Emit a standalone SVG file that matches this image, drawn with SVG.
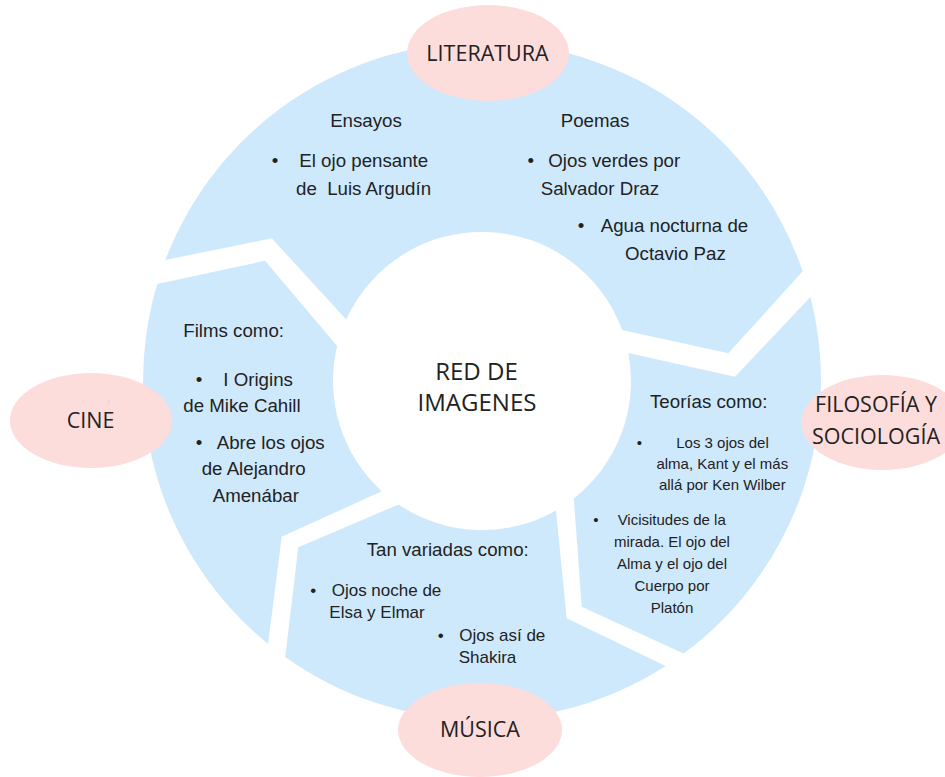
<svg xmlns="http://www.w3.org/2000/svg" width="945" height="777" viewBox="0 0 945 777">
<style>
.seg{fill:#cfe9fc}
.pill{fill:#fddcdc}
.lbl{font-family:"Open Sans","Noto Sans",sans-serif;font-size:21.5px;fill:#222;text-anchor:middle}
.ctr{font-family:"Open Sans","Noto Sans",sans-serif;font-size:24px;fill:#222;text-anchor:middle}
.t{font-family:"Liberation Sans",Arial,sans-serif;font-size:18.7px;fill:#222}
.m{text-anchor:middle}
.s{font-size:15px}
.mu{font-size:17px}
</style>
<rect width="945" height="777" fill="#ffffff"/>
<g id="connectors"></g>
<g id="seg-literatura">
<path class="seg" d="M165.3 260 A339 339 0 0 1 802.7 271.3 L728.3 353.3 L622 329.9 A149 149 0 0 0 346.2 319.6 L271.7 238.3 Z"/>
<text class="t m" x="366" y="127.3">Ensayos</text>
<text class="t m" x="275" y="167.3">•</text>
<text class="t" x="299.3" y="167.3">El ojo pensante</text>
<text class="t" x="296" y="195" xml:space="preserve">de  Luis Argudín</text>
<text class="t" x="560.7" y="127.3">Poemas</text>
<text class="t m" x="530.7" y="167.3">•</text>
<text class="t" x="548.3" y="167.3">Ojos verdes por</text>
<text class="t" x="540.7" y="195">Salvador Draz</text>
<text class="t m" x="581" y="231.7">•</text>
<text class="t" x="600.7" y="231.7">Agua nocturna de</text>
<text class="t" x="625" y="260">Octavio Paz</text>
</g>
<g id="seg-filosofia">
<path class="seg" d="M810.4 297 A339 339 0 0 1 683.5 653.6 L581.7 606.7 L573.8 498.4 A149 149 0 0 0 628.3 353 L735 376.7 Z"/>
<text class="t" x="650" y="408.3">Teorías como:</text>
<text class="t s m" x="639.3" y="448.3">•</text>
<text class="t s m" x="722.5" y="448.3">Los 3 ojos del</text>
<text class="t s m" x="722.3" y="469.3">alma, Kant y el más</text>
<text class="t s m" x="722.3" y="490">allá por Ken Wilber</text>
<text class="t s m" x="596" y="525">•</text>
<text class="t s m" x="671.7" y="525">Vicisitudes de la</text>
<text class="t s m" x="672" y="546.7">mirada. El ojo del</text>
<text class="t s m" x="672" y="569.3">Alma y el ojo del</text>
<text class="t s m" x="672" y="591">Cuerpo por</text>
<text class="t s m" x="672" y="612.7">Platón</text>
</g>
<g id="seg-musica">
<path class="seg" d="M665.6 665.9 A339 339 0 0 1 285.2 657 L298.3 547.3 L398.6 504.5 A149 149 0 0 0 556 510.4 L566.7 618.3 Z"/>
<text class="t" x="366.7" y="556">Tan variadas como:</text>
<text class="t mu m" x="313.3" y="595.7">•</text>
<text class="t mu" x="331.7" y="595.7">Ojos noche de</text>
<text class="t mu" x="329.3" y="618">Elsa y Elmar</text>
<text class="t mu m" x="440.7" y="640.7">•</text>
<text class="t mu" x="459.3" y="640.7">Ojos así de</text>
<text class="t mu" x="458.7" y="663">Shakira</text>
</g>
<g id="seg-cine">
<path class="seg" d="M268.1 644 A339 339 0 0 1 157.2 284 L265 260.7 L337.2 346 A149 149 0 0 0 381.8 491.3 L281.7 536.7 Z"/>
<text class="t" x="183.3" y="337">Films como:</text>
<text class="t m" x="199" y="385.5">•</text>
<text class="t" x="223.3" y="385.5">I Origins</text>
<text class="t" x="183.3" y="411.7">de Mike Cahill</text>
<text class="t m" x="199" y="448.5">•</text>
<text class="t" x="216.7" y="448.5">Abre los ojos</text>
<text class="t" x="201.7" y="475">de Alejandro</text>
<text class="t" x="212.7" y="502">Amenábar</text>
</g>
<g id="node-center">
<text class="ctr" x="476.5" y="379.5">RED DE</text>
<text class="ctr" x="477" y="411">IMAGENES</text>
</g>
<g id="node-literatura">
<ellipse class="pill" cx="488" cy="53" rx="81" ry="48"/>
<text class="lbl" x="487.5" y="60.7">LITERATURA</text>
</g>
<g id="node-cine">
<ellipse class="pill" cx="91" cy="420.5" rx="81" ry="47.5"/>
<text class="lbl" x="90.5" y="428">CINE</text>
</g>
<g id="node-filosofia">
<ellipse class="pill" cx="882.5" cy="422.5" rx="81" ry="47.5"/>
<text class="lbl" x="876" y="412">FILOSOFÍA Y</text>
<text class="lbl" x="876" y="444">SOCIOLOGÍA</text>
</g>
<g id="node-musica">
<ellipse class="pill" cx="480" cy="730" rx="82" ry="47"/>
<text class="lbl" x="480" y="737">MÚSICA</text>
</g>
</svg>
